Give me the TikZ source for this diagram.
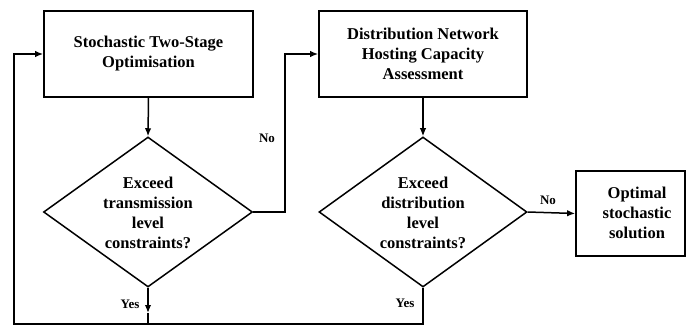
\documentclass[tikz,border=0pt]{standalone}
\usepackage{fontspec}
\setmainfont{Liberation Serif}[BoldFont={Liberation Serif Bold}]
\usetikzlibrary{shapes.geometric,arrows.meta}
\begin{document}
\begin{tikzpicture}[x=1pt,y=-1pt,
  box/.style={draw,line width=1.7pt,rectangle,inner sep=0pt},
  dia/.style={draw,line width=1.5pt,diamond,inner sep=0pt},
  txt/.style={align=center,font=\fontsize{16.5}{20}\selectfont\bfseries,inner sep=0pt},
  lbl/.style={font=\fontsize{13}{15}\selectfont\bfseries,inner sep=0pt},
  conn/.style={line width=1.5pt},
  arr/.style={conn,-{Latex[length=8pt,width=6.5pt]}}]
\useasboundingbox (0,0) rectangle (686,326);
\node[box,minimum width=209pt,minimum height=86pt] (b1) at (148.5,54) {};
\node[txt] (b1t) at (148.5,54) {Stochastic Two-Stage\\Optimisation};
\node[box,minimum width=208pt,minimum height=86pt] (b2) at (423,54) {};
\node[txt] (b2t) at (423,54) {Distribution Network\\Hosting Capacity\\Assessment};
\node[dia,minimum width=209pt,minimum height=150pt] (d1) at (148,212) {};
\node[txt] (d1t) at (148,213) {Exceed\\transmission\\level\\constraints?};
\node[dia,minimum width=208pt,minimum height=150pt] (d2) at (423,212) {};
\node[txt] (d2t) at (423,213) {Exceed\\distribution\\level\\constraints?};
\node[box,minimum width=109pt,minimum height=85pt] (b3) at (630.5,213.5) {};
\node[txt] (b3t) at (637,213) {Optimal\\stochastic\\solution};
\coordinate (ya) at (148,313);
\coordinate (yb) at (148,324);
\coordinate (nr) at (285,212);
\coordinate (br) at (423,324);
\coordinate (bl) at (14,324);
\draw[arr] (b1.south) -- (d1.north);
\draw[arr] (b2.south) -- (d2.north);
\draw[arr] (d1.east) -- (nr) |- (b2.west);
\draw[arr] (d2.east) -- (b3.west);
\draw[arr] (d1.south) -- (ya);
\draw[conn] (ya) -- (yb);
\draw[arr] (d2.south) -- (br) -- (bl) |- (b1.west);
\node[lbl] (no1) at (267,138) {No};
\node[lbl] (no2) at (548,200) {No};
\node[lbl] (yes1) at (130,304) {Yes};
\node[lbl] (yes2) at (405,303) {Yes};
\end{tikzpicture}
\end{document}
